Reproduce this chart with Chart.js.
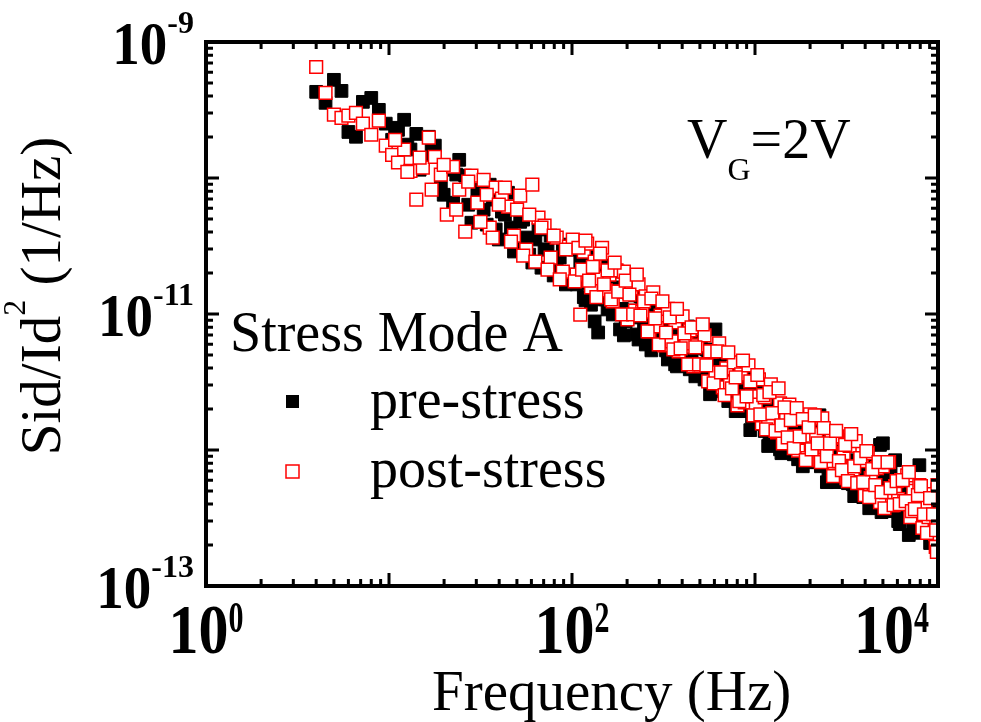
<!DOCTYPE html>
<html>
<head>
<meta charset="utf-8">
<script src="https://cdn.jsdelivr.net/npm/chart.js@4.4.1/dist/chart.umd.min.js"></script>
<style>
  html, body { margin: 0; padding: 0; background: #fff; }
  #wrap { width: 981px; height: 722px; }
</style>
</head>
<body>
<div id="wrap"><canvas id="noiseChart" width="981" height="722"></canvas></div>
<script>
// frequency points (Hz), shared by both measurements
const freq = [
  4, 4.5, 5, 5.5, 6, 6.6, 7.2, 8, 8.8, 9.6,
  10.4, 11.2, 12.1, 13.1, 14.1, 15.3, 16.5, 17.8, 19.2, 20.7,
  22.4, 24.2, 26.1, 28.2, 30.4, 32.9, 35.5, 38.3, 41.4, 44.7,
  48.2, 52.1, 56.2, 60.7, 65.6, 70.8, 76.4, 82.5, 89.1, 96.2,
  101, 106, 111, 116, 121, 127, 133, 139, 146, 153,
  160, 167, 175, 183, 192, 201, 211, 221, 231, 242,
  253, 265, 278, 291, 305, 319, 334, 350, 366, 383,
  402, 421, 440, 461, 483, 506, 530, 555, 581, 608,
  637, 667, 698, 731, 766, 802, 840, 879, 921, 964,
  1010, 1050, 1090, 1130, 1180, 1220, 1270, 1320, 1370, 1420,
  1480, 1540, 1600, 1660, 1720, 1790, 1860, 1930, 2000, 2080,
  2160, 2250, 2330, 2420, 2520, 2620, 2720, 2820, 2930, 3050,
  3160, 3290, 3420, 3550, 3690, 3830, 3980, 4130, 4290, 4460,
  4640, 4820, 5000, 5200, 5400, 5610, 5830, 6060, 6290, 6540,
  6790, 7060, 7330, 7620, 7910, 8220, 8540, 8880, 9220, 9580,
  9650, 9720, 9790, 9860, 9930, 10000,
  // second sweep, in between
  10.8, 12.6, 14.7, 17.1, 19.9, 23.3, 27.1, 31.6, 34.2, 36.9, 39.8,
  43.0, 46.4, 50.1, 54.1, 58.4, 63.1, 68.1, 73.5, 79.4, 85.7, 92.6,
  103.5, 108.5, 113.5, 118.5, 124, 130, 136, 142.5, 149.5, 156.5,
  163.5, 171, 179, 187.5, 196.5, 206, 216, 226, 236.5, 247.5,
  259, 271.5, 284.5, 298, 312, 326.5, 342, 358, 374.5, 392.5,
  411.5, 430.5, 450.5, 472, 494.5, 518, 542.5, 568, 594.5, 622.5,
  652, 682.5, 714.5, 748.5, 784, 821, 859.5, 900, 942.5, 982,
  1030, 1070, 1110, 1150, 1200, 1245, 1295, 1345, 1395, 1450,
  1510, 1570, 1630, 1690, 1755, 1825, 1895, 1965, 2040, 2120,
  2200, 2290, 2375, 2470, 2570, 2670, 2775, 2875, 2985, 3110,
  3220, 3355, 3485, 3620, 3760, 3905, 4060, 4210, 4375, 4545,
  4730, 4915, 5100, 5300, 5505, 5720, 5945, 6180, 6415, 6665,
  6925, 7200, 7475, 7770, 8065, 8380, 8705, 9055, 9400, 9770
];

// Sid/Id^2 before stress (1/Hz)
const preStress = [
  4.30e-10, 3.57e-10, 5.27e-10, 4.37e-10, 2.18e-10, 2.01e-10, 3.63e-10, 3.88e-10, 3.17e-10, 2.51e-10,
  1.91e-10, 2.26e-10, 2.68e-10, 1.62e-10, 2.11e-10, 1.36e-10, 2.01e-10, 1.73e-10, 8.49e-11, 1.15e-10,
  6.58e-11, 1.36e-10, 1.04e-10, 4.69e-11, 7.53e-11, 5.85e-11, 8.93e-11, 4.18e-11, 5.66e-11, 7.79e-11,
  2.88e-11, 4.76e-11, 3.65e-11, 2.39e-11, 4.18e-11, 2.98e-11, 3.77e-11, 2.19e-11, 3.24e-11, 1.95e-11,
  2.98e-11, 1.65e-11, 2.43e-11, 1.33e-11, 2.12e-11, 1.17e-11, 8.82e-12, 7.31e-12, 2.27e-11, 1.28e-11,
  1.80e-11, 9.92e-12, 1.57e-11, 7.70e-12, 6.96e-12, 1.46e-11, 9.43e-12, 1.37e-11, 6.49e-12, 1.17e-11,
  5.97e-12, 1.04e-11, 6.72e-12, 9.43e-12, 5.97e-12, 8.82e-12, 4.63e-12, 7.70e-12, 4.26e-12, 6.72e-12,
  4.49e-12, 7.07e-12, 3.92e-12, 6.28e-12, 3.78e-12, 5.68e-12, 3.30e-12, 5.05e-12, 3.42e-12, 7.70e-12,
  4.49e-12, 2.70e-12, 3.92e-12, 2.36e-12, 3.60e-12, 2.06e-12, 3.04e-12, 1.93e-12, 2.79e-12, 1.75e-12,
  2.79e-12, 1.55e-12, 2.29e-12, 1.38e-12, 1.07e-12, 1.99e-12, 1.24e-12, 1.75e-12, 1.01e-12, 1.55e-12,
  1.10e-12, 1.69e-12, 9.8e-13, 1.42e-12, 8.55e-13, 1.31e-12, 9.3e-13, 1.38e-12, 8.85e-13, 1.20e-12,
  8.13e-13, 1.80e-12, 8.27e-13, 1.05e-12, 7.22e-13, 9.8e-13, 6.42e-13, 8.85e-13, 6.98e-13, 9.3e-13,
  6.31e-13, 8.27e-13, 5.6e-13, 6.1e-13, 7.86e-13, 5.16e-13, 7.22e-13, 4.73e-13, 6.31e-13, 4.35e-13,
  5.9e-13, 1.09e-12, 1.12e-12, 4.5e-13, 6.1e-13, 4.0e-13, 8.41e-13, 3.0e-13, 5.16e-13, 3.68e-13,
  4.73e-13, 3.37e-13, 2.62e-13, 4.35e-13, 7.73e-13, 3.1e-13, 4.0e-13, 2.71e-13, 3.68e-13, 2.22e-13,
  4.35e-13, 2.85e-13, 2.04e-13, 3.37e-13, 5.16e-13, 2.41e-13,
  // second sweep
  2.34e-10, 1.76e-10, 1.15e-10, 1.62e-10, 7.53e-11, 1.06e-10, 6.36e-11, 8.2e-11, 4.54e-11, 6.93e-11, 3.53e-11,
  5.38e-11, 4.32e-11, 3.07e-11, 4.94e-11, 2.73e-11, 3.53e-11, 2.19e-11, 2.98e-11, 1.92e-11, 2.60e-11, 1.65e-11,
  2.98e-11, 1.68e-11, 2.19e-11, 1.26e-11, 2.39e-11, 1.68e-11, 2.65e-11, 1.28e-11, 1.89e-11, 1.08e-11,
  1.54e-11, 1.09e-11, 2.05e-11, 1.09e-11, 8.82e-12, 1.41e-11, 1.06e-11, 7.07e-12, 1.35e-11, 8.52e-12,
  1.03e-11, 5.40e-12, 1.03e-11, 6.61e-12, 1.08e-11, 5.40e-12, 6.61e-12, 8.82e-12, 4.12e-12, 6.61e-12,
  4.49e-12, 8.1e-12, 4.63e-12, 3.48e-12, 5.59e-12, 3.78e-12, 5.49e-12, 2.57e-12, 4.05e-12, 2.79e-12,
  5.05e-12, 3.09e-12, 2.29e-12, 3.66e-12, 1.93e-12, 2.89e-12, 2.06e-12, 3.36e-12, 1.40e-12, 2.48e-12,
  1.60e-12, 2.66e-12, 1.71e-12, 2.79e-12, 1.20e-12, 1.96e-12, 1.33e-12, 2.16e-12, 9.47e-13, 1.55e-12,
  1.22e-12, 1.69e-12, 9.3e-13, 1.83e-12, 1.12e-12, 7.59e-13, 1.35e-12, 8.13e-13, 1.16e-12, 8.55e-13,
  1.40e-12, 7.59e-13, 9.62e-13, 5.8e-13, 1.14e-12, 7.73e-13, 5.8e-13, 9.62e-13, 6.64e-13, 1.18e-12,
  5.7e-13, 7.86e-13, 4.58e-13, 8.41e-13, 6.2e-13, 4.5e-13, 6.98e-13, 3.73e-13, 7.59e-13, 4.73e-13,
  6.42e-13, 3.49e-13, 5.06e-13, 3.55e-13, 6.75e-13, 3.61e-13, 4.81e-13, 2.85e-13, 5.33e-13, 3.61e-13,
  2.37e-13, 4.0e-13, 2.95e-13, 4.9e-13, 2.46e-13, 3.87e-13, 2.90e-13, 2.07e-13, 3.87e-13, 2.29e-13
];

// Sid/Id^2 after stress (1/Hz)
const postStress = [
  6.55e-10, 4.23e-10, 2.92e-10, 2.77e-10, 2.87e-10, 3.01e-10, 2.51e-10, 2.08e-10, 2.64e-10, 1.73e-10,
  1.48e-10, 1.30e-10, 1.62e-10, 1.13e-10, 6.93e-11, 1.19e-10, 1.98e-10, 1.43e-10, 1.06e-10, 5.38e-11,
  1.21e-10, 8.2e-11, 4.04e-11, 1.04e-10, 6.58e-11, 9.7e-11, 4.32e-11, 8.49e-11, 7.04e-11, 6.15e-11,
  3.77e-11, 7.41e-11, 2.98e-11, 8.93e-11, 5.11e-11, 4.47e-11, 2.60e-11, 3.65e-11, 2.05e-11, 3.13e-11,
  3.53e-11, 1.95e-11, 9.9e-12, 2.88e-11, 3.29e-11, 1.57e-11, 2.43e-11, 1.83e-11, 3.07e-11, 1.49e-11,
  1.95e-11, 1.24e-11, 2.09e-11, 1.46e-11, 2.05e-11, 9.12e-12, 1.54e-11, 1.06e-11, 1.65e-11, 1.04e-11,
  1.35e-11, 7.45e-12, 1.44e-11, 8.1e-12, 9.75e-12, 5.87e-12, 1.09e-11, 6.28e-12, 8.67e-12, 5.31e-12,
  9.59e-12, 6.07e-12, 7.57e-12, 4.12e-12, 5.87e-12, 4.26e-12, 6.96e-12, 3.19e-12, 5.31e-12, 3.72e-12,
  6.07e-12, 2.89e-12, 3.99e-12, 3.14e-12, 4.41e-12, 2.13e-12, 3.60e-12, 2.24e-12, 4.19e-12, 2.48e-12,
  2.16e-12, 3.30e-12, 1.57e-12, 2.44e-12, 1.63e-12, 3.04e-12, 1.87e-12, 1.35e-12, 2.20e-12, 1.12e-12,
  1.75e-12, 2.16e-12, 1.26e-12, 1.75e-12, 9.9e-13, 1.78e-12, 1.24e-12, 8.7e-13, 1.83e-12, 1.03e-12,
  1.31e-12, 8.41e-13, 1.71e-12, 1.05e-12, 8.27e-13, 1.22e-12, 6.64e-13, 1.26e-12, 8.27e-13, 9.47e-13,
  6.2e-13, 1.07e-12, 6.75e-13, 1.16e-12, 5.8e-13, 8.27e-13, 4.65e-13, 9.47e-13, 6.2e-13, 5.16e-13,
  7.35e-13, 4.14e-13, 7.59e-13, 4.9e-13, 8.13e-13, 3.93e-13, 5.43e-13, 4.35e-13, 6.0e-13, 4.21e-13,
  6.52e-13, 3.21e-13, 5.0e-13, 3.8e-13, 5.52e-13, 2.67e-13, 4.0e-13, 3.21e-13, 4.73e-13, 2.54e-13,
  2.41e-13, 1.94e-13, 2.76e-13, 1.78e-13, 5.52e-13, 3.1e-13,
  // second sweep
  1.91e-10, 1.11e-10, 1.41e-10, 8.2e-11, 1.25e-10, 5.85e-11, 9.39e-11, 4.76e-11, 7.53e-11, 3.65e-11, 6.36e-11,
  8.49e-11, 3.40e-11, 5.85e-11, 2.69e-11, 5.38e-11, 2.43e-11, 4.32e-11, 2.12e-11, 3.77e-11, 1.80e-11, 2.98e-11,
  1.74e-11, 3.07e-11, 2.12e-11, 3.46e-11, 1.76e-11, 2.22e-11, 1.33e-11, 2.78e-11, 1.65e-11, 2.09e-11,
  1.28e-11, 2.39e-11, 1.46e-11, 9.92e-12, 1.76e-11, 1.39e-11, 9.92e-12, 1.95e-11, 9.75e-12, 1.24e-11,
  7.45e-12, 1.30e-11, 9.27e-12, 5.97e-12, 1.24e-11, 7.31e-12, 9.43e-12, 5.49e-12, 1.09e-11, 5.59e-12,
  7.19e-12, 4.26e-12, 7.96e-12, 5.68e-12, 4.26e-12, 8.38e-12, 4.19e-12, 5.31e-12, 3.09e-12, 5.31e-12,
  3.72e-12, 2.53e-12, 5.22e-12, 2.84e-12, 3.42e-12, 2.29e-12, 4.55e-12, 2.48e-12, 3.19e-12, 1.80e-12,
  3.56e-12, 1.83e-12, 2.53e-12, 1.42e-12, 2.66e-12, 1.87e-12, 1.38e-12, 2.84e-12, 1.52e-12, 2.06e-12,
  1.24e-12, 1.66e-12, 1.03e-12, 2.03e-12, 1.26e-12, 1.69e-12, 8.41e-13, 1.47e-12, 1.01e-12, 1.80e-12,
  1.12e-12, 8.13e-13, 1.45e-12, 9.0e-13, 1.12e-12, 6.42e-13, 1.38e-12, 8.27e-13, 7.1e-13, 1.09e-12,
  5.9e-13, 1.31e-12, 7.59e-13, 5.7e-13, 8.7e-13, 5.8e-13, 9.8e-13, 4.5e-13, 7.22e-13, 5.52e-13,
  8.13e-13, 4.9e-13, 3.73e-13, 8.13e-13, 5.24e-13, 3.93e-13, 5.9e-13, 4.0e-13, 6.0e-13, 4.21e-13,
  6.87e-13, 3.55e-13, 3.68e-13, 4.65e-13, 5.43e-13, 3.37e-13, 2.46e-13, 4.42e-13, 3.37e-13, 2.57e-13
];

const xTickValues = [1, 100, 10000];
const xTickExps = ["0", "2", "4"];
const yTickValues = [1e-9, 1e-11, 1e-13];
const yTickExps = ["-9", "-11", "-13"];

const SERIF = '"Liberation Serif", "Times New Roman", serif';

function toPoints(xs, ys) {
  return xs.map((x, i) => ({ x: x, y: ys[i] }));
}

// text stretched vertically around its baseline
function stretchText(ctx, text, x, y, sy) {
  ctx.save();
  ctx.translate(x, y);
  ctx.scale(1, sy);
  ctx.fillText(text, 0, 0);
  ctx.restore();
}

const framePlugin = {
  id: "frame",
  afterDatasetsDraw(chart) {
    const ctx = chart.ctx;
    const a = chart.chartArea;
    const xs = chart.scales.x;
    const ys = chart.scales.y;
    ctx.save();
    ctx.strokeStyle = "#000";
    ctx.lineWidth = 3;
    ctx.beginPath();
    // inward ticks, top and bottom
    for (let d = 0; d <= 4; d++) {
      for (let m = 1; m <= 9; m++) {
        if (d === 4 && m > 1) break;
        const px = xs.getPixelForValue(m * Math.pow(10, d));
        const len = m === 1 ? 13 : 7;
        ctx.moveTo(px, a.bottom);
        ctx.lineTo(px, a.bottom - len);
        ctx.moveTo(px, a.top);
        ctx.lineTo(px, a.top + len);
      }
    }
    // inward ticks, left and right
    for (let d = -13; d <= -9; d++) {
      for (let m = 1; m <= 9; m++) {
        if (d === -9 && m > 1) break;
        const py = ys.getPixelForValue(m * Math.pow(10, d));
        const len = m === 1 ? 13 : 7;
        ctx.moveTo(a.left, py);
        ctx.lineTo(a.left + len, py);
        ctx.moveTo(a.right, py);
        ctx.lineTo(a.right - len, py);
      }
    }
    ctx.stroke();
    ctx.lineWidth = 4;
    ctx.strokeRect(a.left, a.top, a.right - a.left, a.bottom - a.top);
    ctx.restore();
  },
  afterDraw(chart) {
    const ctx = chart.ctx;
    const xs = chart.scales.x;
    const ys = chart.scales.y;
    ctx.save();
    ctx.fillStyle = "#000";
    ctx.textAlign = "left";
    ctx.textBaseline = "alphabetic";

    // x tick labels 10^n
    xTickValues.forEach((v, i) => {
      const px = xs.getPixelForValue(v);
      ctx.font = "bold 60px " + SERIF;
      const w1 = ctx.measureText("10").width;
      ctx.font = "bold 30px " + SERIF;
      const w2 = ctx.measureText(xTickExps[i]).width;
      let left = px - (w1 + w2) / 2;
      if (left + w1 + w2 > 929) left = 929 - w1 - w2;
      ctx.font = "bold 60px " + SERIF;
      stretchText(ctx, "10", left, 653, 1.15);
      ctx.font = "bold 30px " + SERIF;
      stretchText(ctx, xTickExps[i], left + w1, 632, 1.5);
    });

    // y tick labels 10^-n
    yTickValues.forEach((v, i) => {
      const py = ys.getPixelForValue(v);
      ctx.font = "bold 55px " + SERIF;
      const w1 = ctx.measureText("10").width;
      ctx.font = "bold 32px " + SERIF;
      const w2 = ctx.measureText(yTickExps[i]).width;
      const left = 194 - w1 - w2;
      ctx.font = "bold 55px " + SERIF;
      stretchText(ctx, "10", left, py + 22, 1.12);
      ctx.font = "bold 32px " + SERIF;
      ctx.fillText(yTickExps[i], left + w1, py - 9);
    });

    // axis titles
    ctx.font = "57px " + SERIF;
    ctx.fillText("Frequency (Hz)", 432, 710);

    ctx.save();
    ctx.translate(60, 296);
    ctx.rotate(-Math.PI / 2);
    ctx.font = "57px " + SERIF;
    const t1 = "Sid/Id";
    const t3 = " (1/Hz)";
    const wa = ctx.measureText(t1).width;
    const wc = ctx.measureText(t3).width;
    ctx.font = "32px " + SERIF;
    const wb = ctx.measureText("2").width;
    const tx = -(wa + wb + wc) / 2;
    ctx.font = "57px " + SERIF;
    ctx.fillText(t1, tx, 0);
    ctx.font = "32px " + SERIF;
    ctx.fillText("2", tx + wa, -35);
    ctx.font = "57px " + SERIF;
    ctx.fillText(t3, tx + wa + wb, 0);
    ctx.restore();

    // V_G = 2V
    ctx.font = "56px " + SERIF;
    ctx.fillText("V", 687, 158);
    const wv = ctx.measureText("V").width;
    ctx.font = "32px " + SERIF;
    ctx.fillText("G", 687 + wv, 180);
    const wg = ctx.measureText("G").width;
    ctx.font = "56px " + SERIF;
    ctx.fillText("=2V", 687 + wv + wg, 158);

    // legend
    ctx.fillText("Stress Mode A", 230, 351);
    ctx.fillText("pre-stress", 370, 418);
    ctx.fillText("post-stress", 370, 487);
    ctx.fillRect(286, 395, 13, 13);
    ctx.fillStyle = "#fff";
    ctx.fillRect(286, 465, 13, 13);
    ctx.strokeStyle = "#ff0000";
    ctx.lineWidth = 1.5;
    ctx.strokeRect(286, 465, 13, 13);

    ctx.restore();
  }
};

const ctx = document.getElementById("noiseChart").getContext("2d");
new Chart(ctx, {
  type: "scatter",
  data: {
    datasets: [
      {
        label: "pre-stress",
        data: toPoints(freq, preStress),
        pointStyle: "rect",
        pointRadius: 9,
        backgroundColor: "#000",
        borderColor: "#000",
        borderWidth: 1,
        order: 2,
      },
      {
        label: "post-stress",
        data: toPoints(freq, postStress),
        pointStyle: "rect",
        pointRadius: 9,
        backgroundColor: "#fff",
        borderColor: "#ff0000",
        borderWidth: 1.5,
        order: 1,
      },
    ],
  },
  options: {
    responsive: false,
    animation: false,
    events: [],
    layout: { padding: { left: 206, top: 42, right: 43, bottom: 136 } },
    scales: {
      x: { type: "logarithmic", min: 1, max: 10000, display: false },
      y: { type: "logarithmic", min: 1e-13, max: 1e-9, display: false },
    },
    plugins: {
      legend: { display: false },
      tooltip: { enabled: false },
    },
  },
  plugins: [framePlugin],
});
</script>
</body>
</html>
